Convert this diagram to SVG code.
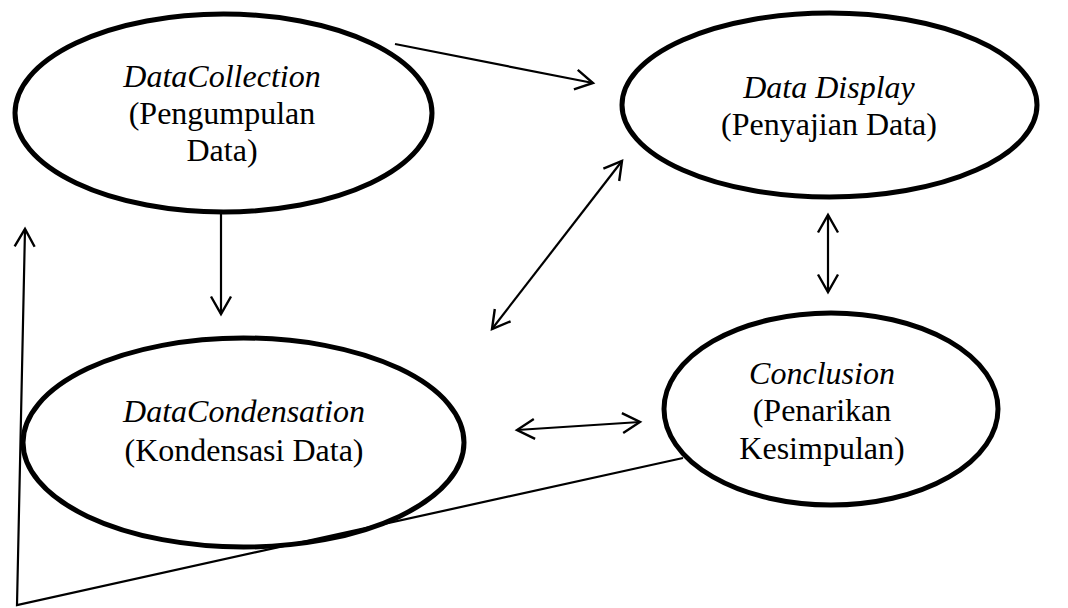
<svg xmlns="http://www.w3.org/2000/svg" width="1068" height="608" viewBox="0 0 1068 608">
<style>
.node{fill:none;stroke:#000;stroke-width:5}
.conn{fill:none;stroke:#000;stroke-width:2.2}
.lbl{font-family:"Liberation Serif","Times New Roman",serif;font-size:32px;fill:#000;text-anchor:middle}
.it{font-style:italic}
</style>
<defs>
<marker id="ah" viewBox="-20 -12 24 24" refX="0" refY="0" markerWidth="24" markerHeight="24" markerUnits="userSpaceOnUse" orient="auto-start-reverse">
<path d="M-17.5,-10 L0,0 L-17.5,10" fill="none" stroke="#000" stroke-width="2.4"/>
</marker>
</defs>
<rect width="1068" height="608" fill="#fff"/>
<g id="connectors">
<line class="conn" x1="395" y1="44" x2="593" y2="83" marker-end="url(#ah)"/>
<line class="conn" x1="221" y1="213" x2="221" y2="314" marker-end="url(#ah)"/>
<line class="conn" x1="492" y1="329" x2="622" y2="161" marker-start="url(#ah)" marker-end="url(#ah)"/>
<line class="conn" x1="828" y1="215" x2="828" y2="292" marker-start="url(#ah)" marker-end="url(#ah)"/>
<line class="conn" x1="517" y1="430" x2="640" y2="422" marker-start="url(#ah)" marker-end="url(#ah)"/>
<polyline class="conn" points="683,458 17,605 25,229" marker-end="url(#ah)"/>
</g>
<g id="node-collection">
<ellipse class="node" cx="223.5" cy="113" rx="208.5" ry="99"/>
<text class="lbl it" x="222" y="87">DataCollection</text>
<text class="lbl" x="222" y="124">(Pengumpulan</text>
<text class="lbl" x="222" y="161">Data)</text>
</g>
<g id="node-display">
<ellipse class="node" cx="829.5" cy="105" rx="207.5" ry="92"/>
<text class="lbl it" x="829" y="98">Data Display</text>
<text class="lbl" x="829" y="135">(Penyajian Data)</text>
</g>
<g id="node-condensation">
<ellipse class="node" cx="243.5" cy="442.5" rx="220.5" ry="104.5"/>
<text class="lbl it" x="244" y="422">DataCondensation</text>
<text class="lbl" x="244" y="461">(Kondensasi Data)</text>
</g>
<g id="node-conclusion">
<ellipse class="node" cx="831" cy="409" rx="167" ry="96"/>
<text class="lbl it" x="822" y="384">Conclusion</text>
<text class="lbl" x="822" y="421">(Penarikan</text>
<text class="lbl" x="822" y="459">Kesimpulan)</text>
</g>
</svg>
